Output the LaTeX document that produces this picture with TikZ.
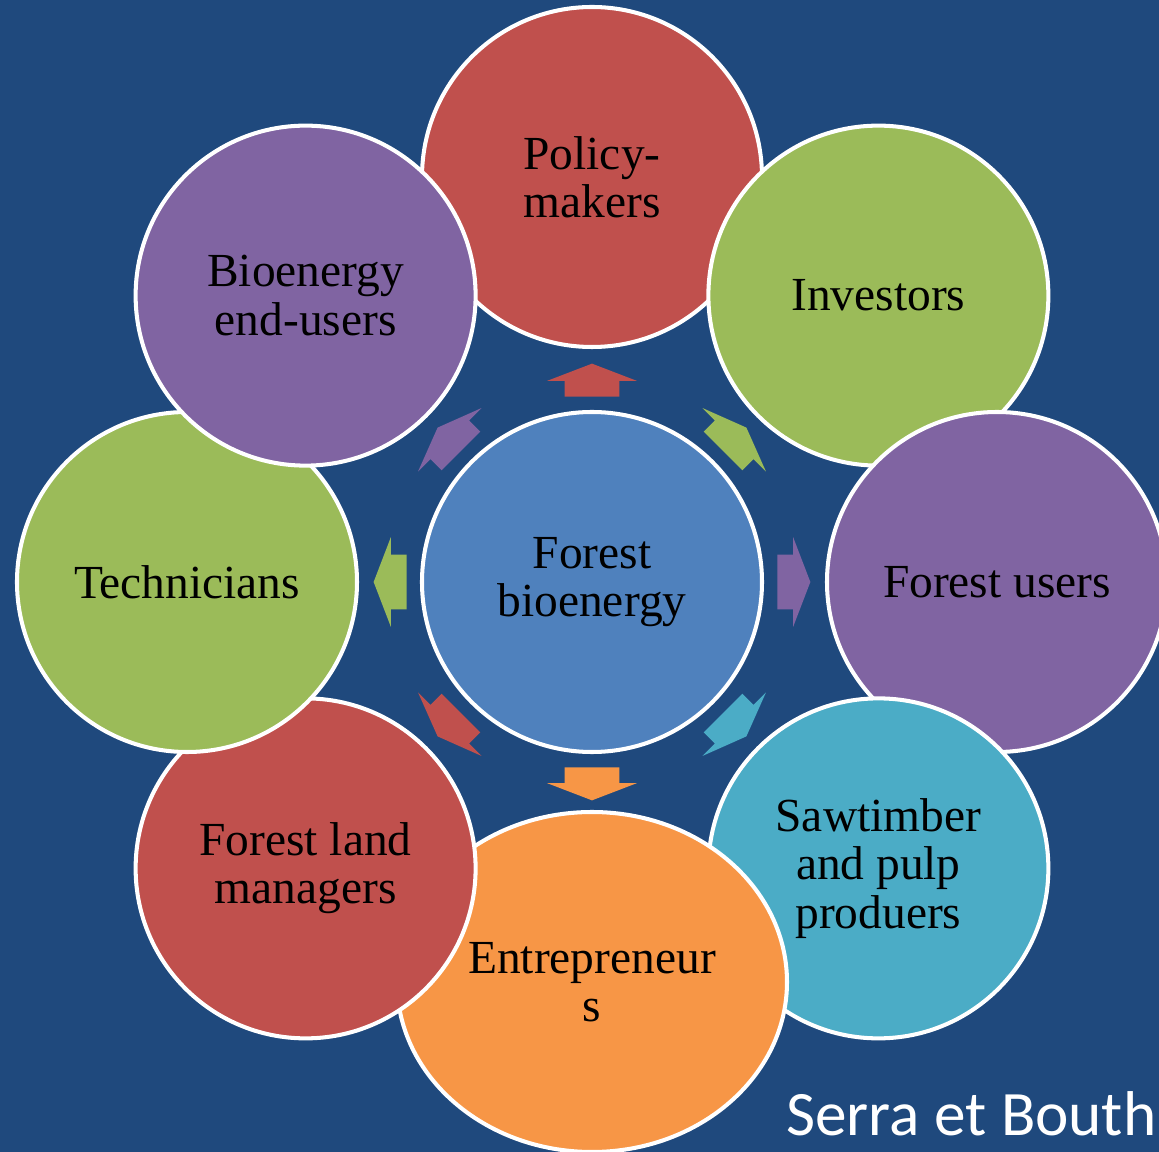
\documentclass[tikz,border=0pt]{standalone}
\usepackage{fontspec}
\setmainfont{Liberation Serif}
\newfontfamily\creditfont{Carlito}
\usetikzlibrary{shapes.geometric, shapes.arrows}
\definecolor{bgblue}{HTML}{1F497D}
\definecolor{hubblue}{HTML}{4F81BD}
\definecolor{cred}{HTML}{C0504D}
\definecolor{cgreen}{HTML}{9BBB59}
\definecolor{cpurple}{HTML}{8064A2}
\definecolor{ccyan}{HTML}{4BACC6}
\definecolor{corange}{HTML}{F79646}
\tikzstyle{hub} = [circle, minimum size=6.8cm, align=center, draw=white, line width=2.3pt, fill=hubblue, font=\fontsize{27}{27.5}\selectfont]
\tikzstyle{actor} = [circle, minimum size=6.8cm, align=center, draw=white, line width=2.3pt, font=\fontsize{27}{27.5}\selectfont]
\tikzstyle{blockarrow} = [single arrow, draw=none, minimum height=0.66cm, single arrow head extend=0.35cm, single arrow tip angle=138, inner xsep=0pt, inner ysep=0.54cm, anchor=tail]
\tikzstyle{credit} = [anchor=base west, text=white, inner sep=0pt, font=\creditfont\fontsize{36}{36}\selectfont]

\begin{document}
\begin{tikzpicture}[x=1cm, y=1cm]
\clip (-11.84,-11.40) rectangle (11.34,11.64);
\fill [bgblue] (-11.84,-11.40) rectangle (11.34,11.64);

\node (hub) [hub] at (0,0) {Forest\\bioenergy};

\node (policy) [actor, fill=cred] at (90:8.1) {Policy-\\makers};
\node (invest) [actor, fill=cgreen] at (45:8.1) {Investors};
\node (users) [actor, fill=cpurple] at (0:8.1) {Forest users};
\node (saw) [actor, fill=ccyan] at (-45:8.1) {Sawtimber\\and pulp\\produers};
\node (entre) [actor, ellipse, minimum width=7.8cm, fill=corange] at (0,-8.0) {Entrepreneur\\s};
\node (land) [actor, fill=cred] at (-135:8.1) {Forest land\\managers};
\node (tech) [actor, fill=cgreen] at (180:8.1) {Technicians};
\node (enduse) [actor, fill=cpurple] at (135:8.1) {Bioenergy\\end-users};

% arrows from the hub
\node (apolicy) [blockarrow, fill=cred, rotate=90] at (90:3.7) {};
\node (ainvest) [blockarrow, fill=cgreen, rotate=45] at (45:3.7) {};
\node (ausers) [blockarrow, fill=cpurple, rotate=0] at (0:3.7) {};
\node (asaw) [blockarrow, fill=ccyan, rotate=-45] at (-45:3.7) {};
\node (aentre) [blockarrow, fill=corange, rotate=-90] at (-90:3.7) {};
\node (aland) [blockarrow, fill=cred, rotate=-135] at (-135:3.7) {};
\node (atech) [blockarrow, fill=cgreen, rotate=180] at (180:3.7) {};
\node (aenduse) [blockarrow, fill=cpurple, rotate=135] at (135:3.7) {};

\node (src) [credit] at (3.88,-11.06) {Serra et Bouth};
\end{tikzpicture}
\end{document}
